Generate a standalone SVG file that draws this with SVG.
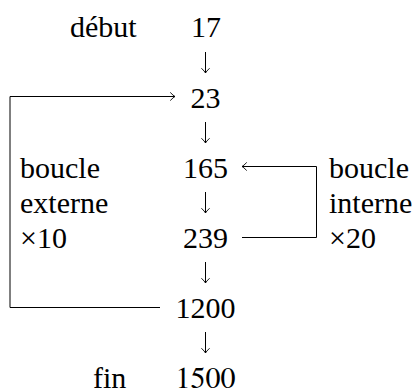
<svg xmlns="http://www.w3.org/2000/svg" width="417" height="390" viewBox="0 0 417 390">
  <style>
    text { font-size: 30px; fill: #000; }
    .num { text-anchor: middle; }
    .edge { fill: none; stroke: #000; stroke-width: 1; }
  </style>
  <defs>
    <marker id="to" markerUnits="userSpaceOnUse" markerWidth="12" markerHeight="12" viewBox="-6 -6 12 12" refX="0" refY="0" orient="auto">
      <path d="M-4.5,-3.8 Q-1.6,-0.8 0,0 Q-1.6,0.8 -4.5,3.8" fill="none" stroke="#000" stroke-width="0.9" stroke-linecap="round"/>
    </marker>
  </defs>

  <rect width="417" height="390" fill="#fff"/>

  <!-- connectors -->
  <g id="connectors">
    <!-- main sequence -->
    <path class="edge" d="M205.5,52 V73" marker-end="url(#to)"/>
    <path class="edge" d="M205.5,122 V143" marker-end="url(#to)"/>
    <path class="edge" d="M205.5,192 V213" marker-end="url(#to)"/>
    <path class="edge" d="M205.5,262 V283" marker-end="url(#to)"/>
    <path class="edge" d="M205.5,332 V353" marker-end="url(#to)"/>
    <!-- outer loop: 1200 back to 23 -->
    <path class="edge" d="M160,307.5 H10 V96.5 H175" marker-end="url(#to)"/>
    <!-- inner loop: 239 back to 165 -->
    <path class="edge" d="M242,237.5 H316.5 V166.5 H242" marker-end="url(#to)"/>
  </g>

  <!-- value nodes -->
  <g id="n17"><text class="num" x="206" y="37" font-family="Liberation Serif">17</text></g>
  <g id="n23"><text class="num" x="205.5" y="108" font-family="Times New Roman">23</text></g>
  <g id="n165"><text class="num" x="205.5" y="177.5" font-family="Tinos">165</text></g>
  <g id="n239"><text class="num" x="205.5" y="248" font-family="Times">239</text></g>
  <g id="n1200"><text class="num" x="205.5" y="318" font-family="Tinos">1200</text></g>
  <g id="n1500"><text class="num" x="205.5" y="387.5" font-family="FreeSerif">1500</text></g>

  <!-- side labels -->
  <g id="label-debut"><text x="70" y="37" font-family="serif">début</text></g>
  <g id="label-fin"><text x="93" y="387.5" font-family="Liberation Serif">fin</text></g>

  <g id="label-outer">
    <text x="20" y="177.5" font-family="Times">boucle</text>
    <text x="20" y="213" font-family="Times New Roman">externe</text>
    <text x="20" y="248" font-family="Liberation Serif">×10</text>
  </g>

  <g id="label-inner">
    <text x="329" y="177.5" font-family="Times">boucle</text>
    <text x="329" y="213" font-family="Times New Roman">interne</text>
    <text x="329" y="248" font-family="Liberation Serif">×20</text>
  </g>
</svg>
